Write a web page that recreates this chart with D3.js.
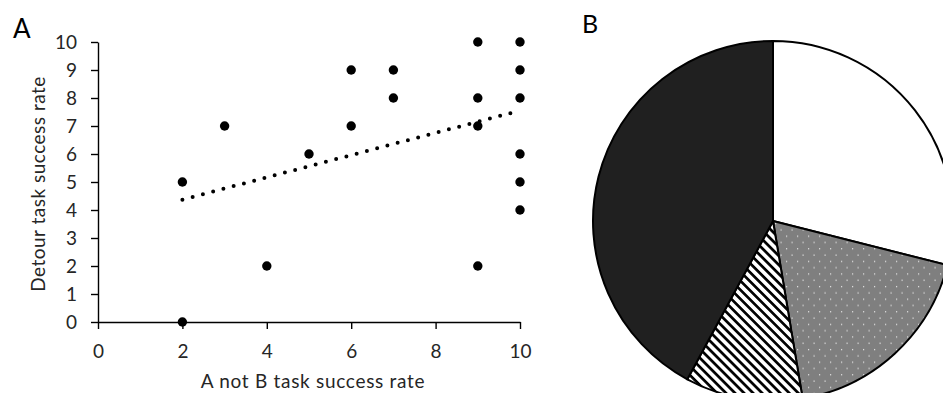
<!DOCTYPE html>
<html>
<head>
<meta charset="utf-8">
<script src="https://cdn.jsdelivr.net/npm/d3@7"></script>
<style>
  html, body { margin: 0; padding: 0; background: #fff; }
  svg { display: block; font-family: Lato, "Open Sans", sans-serif; }
</style>
</head>
<body>
<svg id="chart" width="943" height="393"></svg>
<script>
// Panel A: scatter of A-not-B vs detour task success rate
const aNotB  = [2, 2, 3, 4, 5, 6, 6, 7, 7, 9, 9, 9, 9, 10, 10, 10, 10, 10, 10];
const detour = [0, 5, 7, 2, 6, 9, 7, 9, 8, 10, 8, 7, 2, 10, 9, 8, 6, 5, 4];
// Linear trend line end points (x, y)
const trendX = [2, 10];
const trendY = [4.37, 7.55];
const xTicks = [0, 2, 4, 6, 8, 10];
const yTicks = [0, 1, 2, 3, 4, 5, 6, 7, 8, 9, 10];

// Panel B: group counts, clockwise from 12 o'clock
const groups = ["white", "dotted", "hatched", "black"];
const counts = [11, 7, 4, 16];

const svg = d3.select("#chart");

// ---------- Panel A ----------
const x = d3.scaleLinear().domain([0, 10]).range([98, 520]);
const y = d3.scaleLinear().domain([0, 10]).range([322, 42]);

const gx = svg.append("g")
  .attr("transform", `translate(0,${y(0)})`)
  .call(d3.axisBottom(x).tickValues(xTicks).tickSize(7).tickSizeOuter(0).tickPadding(16));
const gy = svg.append("g")
  .attr("transform", `translate(${x(0)},0)`)
  .call(d3.axisLeft(y).tickValues(yTicks).tickSize(7).tickSizeOuter(0).tickPadding(14));

[gx, gy].forEach(g => {
  g.select(".domain").attr("stroke", "#000").attr("stroke-width", 1.4);
  g.selectAll(".tick line").attr("stroke", "#000").attr("stroke-width", 1.4);
  g.selectAll(".tick text").attr("fill", "#262626").attr("font-size", 19)
    .attr("font-family", "Lato, sans-serif");
});

// dotted trend line
const trend = trendX.map((v, i) => [v, trendY[i]]);
svg.append("path")
  .datum(trend)
  .attr("d", d3.line().x(d => x(d[0])).y(d => y(d[1])))
  .attr("fill", "none")
  .attr("stroke", "#000")
  .attr("stroke-width", 4)
  .attr("stroke-linecap", "round")
  .attr("stroke-dasharray", "0 10.6");

// data points
svg.append("g").selectAll("circle")
  .data(aNotB.map((v, i) => [v, detour[i]]))
  .join("circle")
  .attr("cx", d => x(d[0]))
  .attr("cy", d => y(d[1]))
  .attr("r", 4.7)
  .attr("fill", "#000");

// axis titles
svg.append("text")
  .attr("x", (x(0) + x(10)) / 2 + 4)
  .attr("y", 388)
  .attr("text-anchor", "middle")
  .attr("font-size", 19)
  .attr("letter-spacing", 0.7)
  .attr("fill", "#262626")
  .text("A not B task success rate");

svg.append("text")
  .attr("transform", `translate(45,${(y(0) + y(10)) / 2 + 2}) rotate(-90)`)
  .attr("text-anchor", "middle")
  .attr("font-size", 19)
  .attr("letter-spacing", 0.5)
  .attr("fill", "#262626")
  .text("Detour task success rate");

svg.append("text")
  .attr("x", 13).attr("y", 38)
  .attr("font-size", 26)
  .attr("fill", "#000")
  .text("A");

// ---------- Panel B ----------
const defs = svg.append("defs");

const dots = defs.append("pattern")
  .attr("id", "dots")
  .attr("patternUnits", "userSpaceOnUse")
  .attr("width", 11).attr("height", 12.6);
dots.append("rect").attr("width", 11).attr("height", 12.6).attr("fill", "#7f7f7f");
dots.append("rect").attr("x", 2).attr("y", 2).attr("width", 1.2).attr("height", 1.2).attr("fill", "#e6e6e6");
dots.append("rect").attr("x", 7.5).attr("y", 8.3).attr("width", 1.2).attr("height", 1.2).attr("fill", "#e6e6e6");

// wide downward diagonal stripes
const hatch = defs.append("pattern")
  .attr("id", "hatch")
  .attr("patternUnits", "userSpaceOnUse")
  .attr("width", 6.4).attr("height", 6.4)
  .attr("patternTransform", "rotate(45)");
hatch.append("rect").attr("width", 6.4).attr("height", 6.4).attr("fill", "#fff");
hatch.append("rect").attr("width", 6.4).attr("height", 2.7).attr("fill", "#000");

const fills = { white: "#fff", dotted: "url(#dots)", hatched: "url(#hatch)", black: "#202020" };

const cx = 773, cy = 221, r = 180;
const pie = d3.pie().sort(null).value(d => d.n);
const arc = d3.arc().innerRadius(0).outerRadius(r);

svg.append("g")
  .attr("transform", `translate(${cx},${cy})`)
  .selectAll("path")
  .data(pie(groups.map((g, i) => ({ g, n: counts[i] }))))
  .join("path")
  .attr("d", arc)
  .attr("fill", d => fills[d.data.g])
  .attr("stroke", "#000")
  .attr("stroke-width", 2)
  .attr("stroke-linejoin", "round");

svg.append("text")
  .attr("x", 582).attr("y", 33)
  .attr("font-size", 25)
  .attr("fill", "#000")
  .text("B");
</script>
</body>
</html>
